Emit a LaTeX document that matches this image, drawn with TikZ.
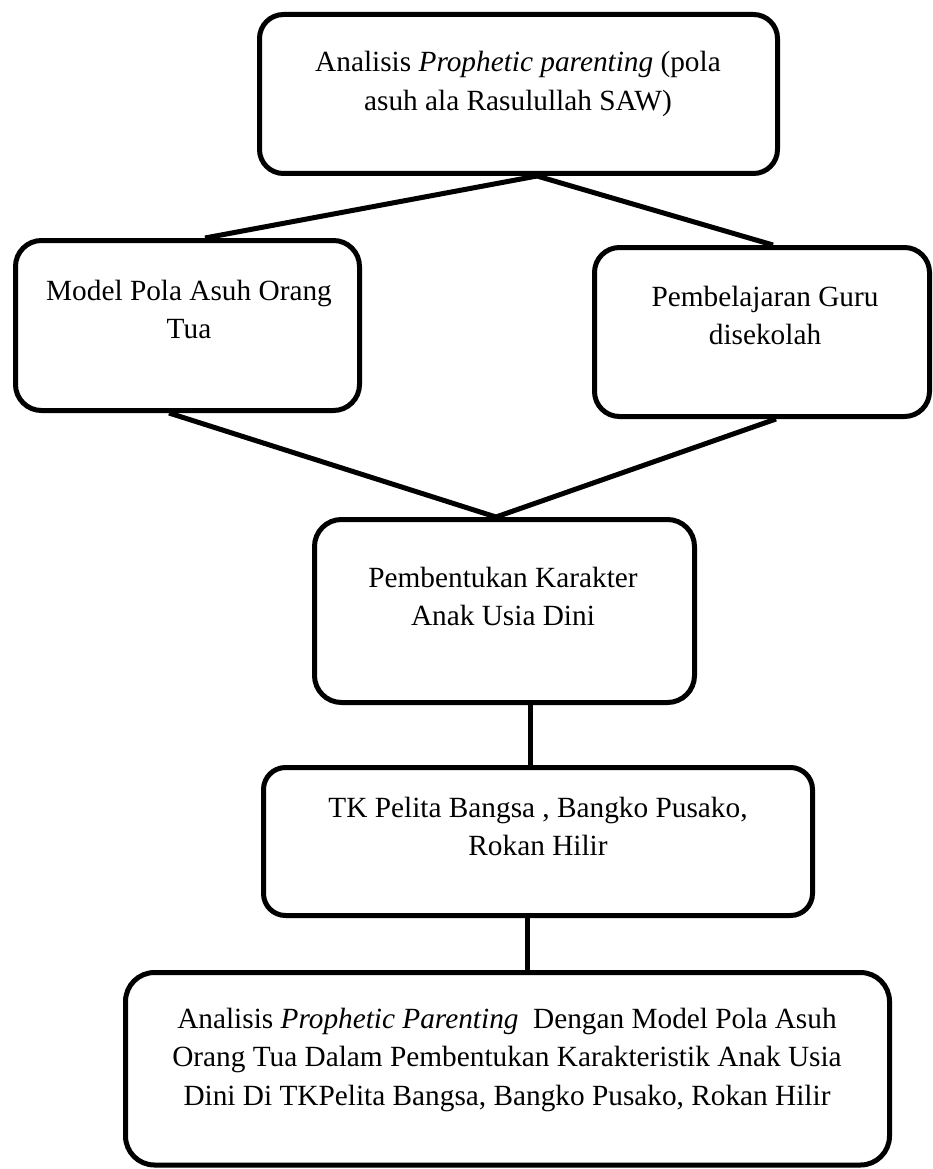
\documentclass[tikz,border=0pt]{standalone}
\usepackage{fontspec}
\setmainfont{Liberation Serif}
\usetikzlibrary{calc}
\newcommand\boxtextfont{\fontsize{29.3}{38.5}\selectfont}
\begin{document}
\begin{tikzpicture}[x=1pt,y=-1pt,
  box/.style={draw=black, line width=5pt, rounded corners=#1, inner sep=0pt, fill=none},
  lbl/.style={anchor=base, inner sep=0pt, font=\boxtextfont},
  conn/.style={draw=black, line width=5pt}]
\useasboundingbox (0,0) rectangle (932,1169);
% boxes
\node[box=24pt, minimum width=518pt, minimum height=159pt] (top) at (518.5,94) {};
\node[box=26pt, minimum width=344pt, minimum height=170pt] (left) at (187.5,325.5) {};
\node[box=25pt, minimum width=335pt, minimum height=169pt] (right) at (762,332) {};
\node[box=27pt, minimum width=380pt, minimum height=183pt] (mid) at (504.5,611) {};
\node[box=22pt, minimum width=549pt, minimum height=148pt] (tk) at (538,841.5) {};
\node[box=29pt, minimum width=764pt, minimum height=192.5pt] (res) at (507.5,1068.75) {};
% texts
\node[lbl] (ttop) at (518,72) {\begin{tabular}[t]{@{}c@{}}Analisis \textit{Prophetic parenting} (pola\\ asuh ala Rasulullah SAW)\end{tabular}};
\node[lbl] (tleft) at (189,300) {\begin{tabular}[t]{@{}c@{}}Model Pola Asuh Orang\\ Tua\end{tabular}};
\node[lbl] (tright) at (765,306) {\begin{tabular}[t]{@{}c@{}}Pembelajaran Guru\\ disekolah\end{tabular}};
\node[lbl] (tmid) at (503,587) {\begin{tabular}[t]{@{}c@{}}Pembentukan Karakter\\ Anak Usia Dini\end{tabular}};
\node[lbl] (ttk) at (538,817) {\begin{tabular}[t]{@{}c@{}}TK Pelita Bangsa , Bangko Pusako,\\ Rokan Hilir\end{tabular}};
\node[lbl] (tres) at (507,1028) {\begin{tabular}[t]{@{}c@{}}Analisis \textit{Prophetic Parenting}\ \ Dengan Model Pola Asuh\\ Orang Tua Dalam Pembentukan Karakteristik Anak Usia\\ Dini Di TKPelita Bangsa, Bangko Pusako, Rokan Hilir\end{tabular}};
% connectors
\draw[conn] ([xshift=18.5pt]top.south) -- ([xshift=17.5pt]left.north);
\draw[conn] ([xshift=18.5pt]top.south) -- ([xshift=11pt]right.north);
\draw[conn] ([xshift=-18.5pt]left.south) -- ([xshift=-8.5pt]mid.north);
\draw[conn] ([xshift=14pt]right.south) -- ([xshift=-8.5pt]mid.north);
\draw[conn] ([xshift=25.5pt]mid.south) -- ([xshift=-8pt]tk.north);
\draw[conn] ([xshift=-11pt]tk.south) -- ([xshift=19.5pt]res.north);
\end{tikzpicture}
\end{document}
